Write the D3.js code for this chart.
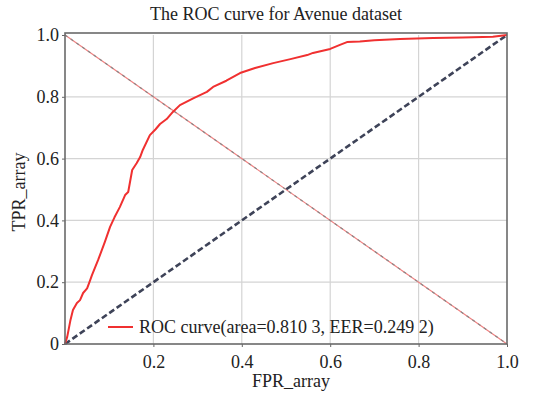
<!DOCTYPE html>
<html>
<head>
<meta charset="utf-8">
<script src="https://cdn.jsdelivr.net/npm/d3@7"></script>
<style>
	body { margin: 0; background: #fff; }
	text { font-family: "Liberation Serif", "DejaVu Serif", serif; fill: #222; }
</style>
</head>
<body>
<div id="chart"></div>
<script>

// (data) ROC curve
var fpr = [0, 0.005, 0.012, 0.018, 0.027, 0.034, 0.041, 0.050, 0.057, 0.061, 0.075, 0.090, 0.102, 0.112, 0.124, 0.136, 0.143, 0.152, 0.162, 0.170, 0.176, 0.192, 0.205, 0.215, 0.230, 0.244, 0.260, 0.290, 0.321, 0.335, 0.365, 0.396, 0.430, 0.471, 0.510, 0.548, 0.561, 0.600, 0.622, 0.638, 0.667, 0.700, 0.758, 0.833, 0.900, 0.968, 1];
var tpr = [0, 0.023, 0.075, 0.110, 0.133, 0.142, 0.165, 0.180, 0.207, 0.223, 0.272, 0.330, 0.379, 0.410, 0.443, 0.482, 0.492, 0.563, 0.585, 0.605, 0.628, 0.676, 0.695, 0.712, 0.728, 0.751, 0.773, 0.795, 0.816, 0.832, 0.852, 0.877, 0.893, 0.909, 0.922, 0.935, 0.942, 0.955, 0.968, 0.977, 0.979, 0.983, 0.987, 0.990, 0.992, 0.994, 1];
var chance = [0, 1];
var xTicks = [0.2, 0.4, 0.6, 0.8, 1.0];
var yTicks = [0, 0.2, 0.4, 0.6, 0.8, 1.0];
var titleText = "The ROC curve for Avenue dataset";
var legendText = "ROC curve(area=0.810 3, EER=0.249 2)";

var width = 536, height = 397;
var margin = {top: 35, right: 29, bottom: 53, left: 65};

var svg = d3.select("#chart")
	.append("svg")
	.attr("width", width)
	.attr("height", height);

var x = d3.scaleLinear().domain([0, 1]).range([margin.left, width - margin.right]);
var y = d3.scaleLinear().domain([0, 1]).range([height - margin.bottom, margin.top]);

function fmt(d) { return d === 0 ? "0" : d3.format(".1f")(d); }

// (grid) Light grid lines
svg.append("g")
	.selectAll("line")
	.data(xTicks.slice(0, 4))
	.enter()
	.append("line")
	.attr("x1", function(d) { return x(d); })
	.attr("x2", function(d) { return x(d); })
	.attr("y1", y(0))
	.attr("y2", y(1))
	.attr("stroke", "#d4d4d4")
	.attr("stroke-width", 1.2);
svg.append("g")
	.selectAll("line")
	.data(yTicks.slice(1, 5))
	.enter()
	.append("line")
	.attr("x1", x(0))
	.attr("x2", x(1))
	.attr("y1", function(d) { return y(d); })
	.attr("y2", function(d) { return y(d); })
	.attr("stroke", "#d4d4d4")
	.attr("stroke-width", 1.2);

// (axes) Tick labels only, frame drawn separately
var xAxis = svg.append("g")
	.attr("transform", "translate(0," + y(0) + ")")
	.call(d3.axisBottom(x).tickValues(xTicks).tickFormat(fmt).tickSize(3).tickPadding(8));
var yAxis = svg.append("g")
	.attr("transform", "translate(" + x(0) + ",0)")
	.call(d3.axisLeft(y).tickValues(yTicks).tickFormat(fmt).tickSize(3).tickPadding(3));
[xAxis, yAxis].forEach(function(g) {
	g.select(".domain").remove();
	g.selectAll("line").attr("stroke", "#666");
	g.selectAll("text").attr("font-size", "18px").attr("fill", "#222")
		.style("font-family", "'Liberation Serif', serif");
});

// (anti) Anti-diagonal, red under a gray dotted line
var line = d3.line()
	.x(function(d) { return x(d[0]); })
	.y(function(d) { return y(d[1]); });
var anti = chance.map(function(d) { return [d, 1 - d]; });
svg.append("path")
	.attr("d", line(anti))
	.attr("fill", "none")
	.attr("stroke", "#f08080")
	.attr("stroke-width", 1.2);
svg.append("path")
	.attr("d", line(anti))
	.attr("fill", "none")
	.attr("stroke", "#888")
	.attr("stroke-width", 1.2)
	.attr("stroke-dasharray", "3,4");

// (diag) Chance line
svg.append("path")
	.attr("d", line(chance.map(function(d) { return [d, d]; })))
	.attr("fill", "none")
	.attr("stroke", "#3e4358")
	.attr("stroke-width", 2.6)
	.attr("stroke-dasharray", "6,3");

// (roc) ROC curve
svg.append("path")
	.attr("d", line(fpr.map(function(d, i) { return [d, tpr[i]]; })))
	.attr("fill", "none")
	.attr("stroke", "#f03030")
	.attr("stroke-width", 2)
	.attr("stroke-linejoin", "round");

// (frame) Plot border
svg.append("rect")
	.attr("x", x(0))
	.attr("y", y(1) - 2)
	.attr("width", x(1) - x(0))
	.attr("height", y(0) - y(1) + 2)
	.attr("fill", "none")
	.attr("stroke", "#6a6a6a")
	.attr("stroke-width", 1.6);

// (legend) Legend entry
svg.append("line")
	.attr("x1", 108).attr("x2", 133)
	.attr("y1", 327).attr("y2", 327)
	.attr("stroke", "#f03030")
	.attr("stroke-width", 2);
svg.append("text")
	.attr("x", 139).attr("y", 333)
	.attr("font-size", "18px")
	.text(legendText);

// (labels) Title and axis names
svg.append("text")
	.attr("x", 276).attr("y", 20)
	.attr("text-anchor", "middle")
	.attr("font-size", "18px")
	.text(titleText);
svg.append("text")
	.attr("x", 291).attr("y", 387)
	.attr("text-anchor", "middle")
	.attr("font-size", "18px")
	.text("FPR_array");
svg.append("text")
	.attr("transform", "translate(25,192) rotate(-90)")
	.attr("text-anchor", "middle")
	.attr("font-size", "18px")
	.text("TPR_array");

</script>
</body>
</html>
